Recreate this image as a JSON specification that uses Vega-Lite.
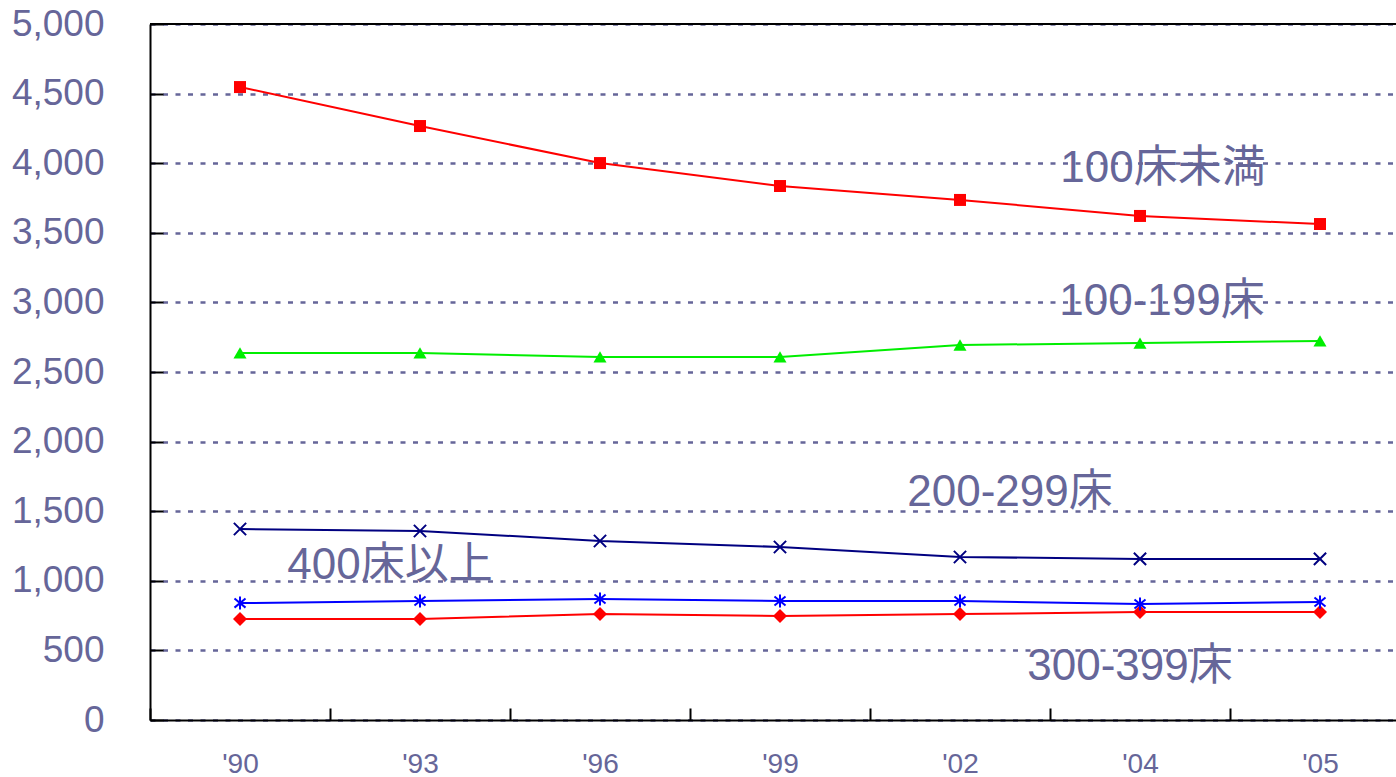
{
  "$schema": "https://vega.github.io/schema/vega-lite/v6.json",
  "width": 1246,
  "height": 696,
  "autosize": {"type": "none"},
  "padding": {"left": 150, "top": 24, "right": 0, "bottom": 57},
  "background": "white",
  "config": {
    "view": {"stroke": null},
    "font": "Liberation Sans",
    "text": {"font": "Liberation Sans, Noto Sans CJK JP"}
  },
  "datasets": {
    "beds": [
      {"year": "'90", "series": "100床未満", "value": 4547},
      {"year": "'93", "series": "100床未満", "value": 4267},
      {"year": "'96", "series": "100床未満", "value": 4001},
      {"year": "'99", "series": "100床未満", "value": 3836},
      {"year": "'02", "series": "100床未満", "value": 3736},
      {"year": "'04", "series": "100床未満", "value": 3621},
      {"year": "'05", "series": "100床未満", "value": 3563},
      {"year": "'90", "series": "100-199床", "value": 2637},
      {"year": "'93", "series": "100-199床", "value": 2637},
      {"year": "'96", "series": "100-199床", "value": 2608},
      {"year": "'99", "series": "100-199床", "value": 2608},
      {"year": "'02", "series": "100-199床", "value": 2694},
      {"year": "'04", "series": "100-199床", "value": 2708},
      {"year": "'05", "series": "100-199床", "value": 2723},
      {"year": "'90", "series": "200-299床", "value": 1372},
      {"year": "'93", "series": "200-299床", "value": 1358},
      {"year": "'96", "series": "200-299床", "value": 1286},
      {"year": "'99", "series": "200-299床", "value": 1243},
      {"year": "'02", "series": "200-299床", "value": 1171},
      {"year": "'04", "series": "200-299床", "value": 1157},
      {"year": "'05", "series": "200-299床", "value": 1157},
      {"year": "'90", "series": "400床以上", "value": 840},
      {"year": "'93", "series": "400床以上", "value": 855},
      {"year": "'96", "series": "400床以上", "value": 869},
      {"year": "'99", "series": "400床以上", "value": 855},
      {"year": "'02", "series": "400床以上", "value": 855},
      {"year": "'04", "series": "400床以上", "value": 833},
      {"year": "'05", "series": "400床以上", "value": 848},
      {"year": "'90", "series": "300-399床", "value": 726},
      {"year": "'93", "series": "300-399床", "value": 726},
      {"year": "'96", "series": "300-399床", "value": 761},
      {"year": "'99", "series": "300-399床", "value": 747},
      {"year": "'02", "series": "300-399床", "value": 761},
      {"year": "'04", "series": "300-399床", "value": 776},
      {"year": "'05", "series": "300-399床", "value": 776}
    ]
  },
  "encoding": {
    "x": {
      "field": "year",
      "type": "ordinal",
      "sort": null,
      "scale": {"type": "band", "domain": ["'90", "'93", "'96", "'99", "'02", "'04", "'05"], "range": [0, 1260], "paddingInner": 0, "paddingOuter": 0},
      "axis": {
        "title": null,
        "labelAngle": 0,
        "labelFontSize": 28,
        "labelColor": "#666699",
        "labelFont": "Liberation Sans",
        "labelPadding": 42,
        "tickBand": "extent",
        "tickSize": -12,
        "tickColor": "black",
        "tickWidth": 2,
        "domainColor": "black",
        "domainWidth": 2,
        "grid": false
      }
    },
    "y": {
      "field": "value",
      "type": "quantitative",
      "scale": {"domain": [0, 5000], "nice": false, "zero": true},
      "axis": {
        "title": null,
        "values": [0, 500, 1000, 1500, 2000, 2500, 3000, 3500, 4000, 4500, 5000],
        "format": ",d",
        "labelFontSize": 37,
        "labelColor": "#666699",
        "labelFont": "Liberation Sans",
        "labelPadding": 59,
        "tickSize": -13,
        "tickColor": "black",
        "tickWidth": 2,
        "domainColor": "black",
        "domainWidth": 2,
        "grid": true,
        "gridColor": "#666699",
        "gridDash": [5, 7.5],
        "gridWidth": 2.6
      }
    }
  },
  "layer": [
    {
      "data": {"values": [{"top": 5000}]},
      "mark": {"type": "rule", "color": "black", "strokeWidth": 2},
      "encoding": {"y": {"field": "top", "type": "quantitative"}, "x": null}
    },
    {
      "data": {"name": "beds"},
      "mark": {"type": "line", "strokeWidth": 2},
      "encoding": {
        "color": {
          "field": "series", "type": "nominal", "legend": null,
          "scale": {"domain": ["100床未満", "100-199床", "200-299床", "400床以上", "300-399床"], "range": ["#FF0000", "#00EE00", "#000080", "#0000FF", "#FF0000"]}
        },
        "detail": {"field": "series"}
      }
    },
    {
      "data": {"name": "beds"},
      "transform": [{"filter": "datum.series === '100床未満' || datum.series === '100-199床' || datum.series === '300-399床'"}],
      "mark": {"type": "point", "filled": true, "opacity": 1},
      "encoding": {
        "color": {
          "field": "series", "type": "nominal", "legend": null,
          "scale": {"domain": ["100床未満", "100-199床", "200-299床", "400床以上", "300-399床"], "range": ["#FF0000", "#00EE00", "#000080", "#0000FF", "#FF0000"]}
        },
        "shape": {
          "field": "series", "type": "nominal", "legend": null,
          "scale": {"domain": ["100床未満", "100-199床", "300-399床"], "range": ["square", "triangle-up", "diamond"]}
        },
        "size": {
          "field": "series", "type": "nominal", "legend": null,
          "scale": {"domain": ["100床未満", "100-199床", "300-399床"], "range": [144, 196, 200]}
        }
      }
    },
    {
      "data": {"name": "beds"},
      "transform": [{"filter": "datum.series === '200-299床'"}],
      "mark": {"type": "point", "filled": false, "opacity": 1, "shape": "M-1,-1L1,1M-1,1L1,-1", "size": 150, "stroke": "#000080", "strokeWidth": 2}
    },
    {
      "data": {"name": "beds"},
      "transform": [{"filter": "datum.series === '400床以上'"}],
      "mark": {"type": "point", "filled": false, "opacity": 1, "shape": "M0,-1L0,1M-0.85,-0.7L0.85,0.7M-0.85,0.7L0.85,-0.7", "size": 169, "stroke": "#0000FF", "strokeWidth": 2}
    },
    {
      "data": {"values": [{"year": "'04", "value": 3960, "label": "100床未満"}]},
      "mark": {"type": "text", "fontSize": 44, "color": "#666699", "align": "center", "baseline": "middle", "dx": 23},
      "encoding": {"text": {"field": "label"}}
    },
    {
      "data": {"values": [{"year": "'04", "value": 3003, "label": "100-199床"}]},
      "mark": {"type": "text", "fontSize": 44, "color": "#666699", "align": "center", "baseline": "middle", "dx": 22},
      "encoding": {"text": {"field": "label"}}
    },
    {
      "data": {"values": [{"year": "'02", "value": 1631, "label": "200-299床"}]},
      "mark": {"type": "text", "fontSize": 44, "color": "#666699", "align": "center", "baseline": "middle", "dx": 50},
      "encoding": {"text": {"field": "label"}}
    },
    {
      "data": {"values": [{"year": "'93", "value": 1106, "label": "400床以上"}]},
      "mark": {"type": "text", "fontSize": 44, "color": "#666699", "align": "center", "baseline": "middle", "dx": -30},
      "encoding": {"text": {"field": "label"}}
    },
    {
      "data": {"values": [{"year": "'04", "value": 381, "label": "300-399床"}]},
      "mark": {"type": "text", "fontSize": 44, "color": "#666699", "align": "center", "baseline": "middle", "dx": -10},
      "encoding": {"text": {"field": "label"}}
    }
  ]
}
